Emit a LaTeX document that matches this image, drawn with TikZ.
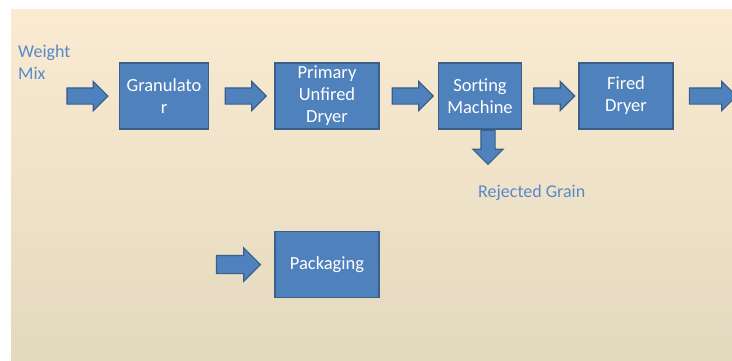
\documentclass[tikz,border=0pt]{standalone}
\usepackage{fontspec}
\setmainfont{Carlito}
\usetikzlibrary{shapes.arrows,positioning,calc}
\definecolor{boxfill}{HTML}{4F81BD}
\definecolor{boxline}{HTML}{3A5F8B}
\definecolor{lblblue}{HTML}{5889C8}
\definecolor{bgtop}{HTML}{FAEBD2}
\definecolor{bgbot}{HTML}{E3D9BF}

\begin{document}
\begin{tikzpicture}[x=1pt, y=-1pt,
  box/.style={rectangle, draw=boxline, fill=boxfill, line width=1.5pt, text=white,
    align=center, minimum height=66pt, inner xsep=2pt, inner ysep=0pt,
    font=\fontsize{18.5}{22}\selectfont},
  fat/.style={single arrow, draw=boxline, fill=boxfill, line width=1.2pt,
    inner xsep=0pt, inner ysep=7.5pt, single arrow head extend=6.5pt,
    minimum height=41pt},
  lbl/.style={text=lblblue, inner sep=0pt, font=\fontsize{18}{22}\selectfont}]

  \useasboundingbox (0,0) rectangle (732,360);
  \fill[white] (0,0) rectangle (732,360);
  \shade[top color=bgtop, bottom color=bgbot] (11,9) rectangle (732,360);

  \node[box, minimum width=89pt]  (gran)  at (164,96) {Granulato\\r};
  \node[box, minimum width=104pt] (unf)   [right=65pt of gran] {Primary\\Unfired\\Dryer};
  \node[box, minimum width=83pt]  (sort)  [right=58pt of unf] {Sorting\\Machine};
  \node[box, minimum width=94pt]  (fired) [right=56pt of sort] {Fired\\Dryer};
  \node[box, minimum width=104pt] (pack)  [below=101pt of unf] {Packaging};

  \node[lbl, align=left, anchor=north west] (mix) at (18,45) {Weight\\Mix};
  \node[lbl, anchor=base west] (rej) at (478,197) {Rejected Grain};

  % block arrows between the stages
  \node[fat, anchor=tip] (a1) at ([xshift=-10pt]gran.west) {};
  \node[fat] (a2) at ($(gran.east)!.5!(unf.west)$) {};
  \node[fat] (a3) at ($(unf.east)!.5!(sort.west)$) {};
  \node[fat] (a4) at ($(sort.east)!.5!(fired.west)$) {};
  \node[fat, anchor=tail, minimum height=47pt] (a5) at ([xshift=15pt]fired.east) {};
  \node[fat, shape border rotate=270, anchor=tail, inner xsep=6.5pt, inner ysep=0pt,
        single arrow head extend=8pt, minimum height=34pt] (drop) at ([xshift=8pt]sort.south) {};
  \node[fat, anchor=tip, minimum height=44pt, inner ysep=8.5pt,
        single arrow head extend=7.5pt] (feed) at ([xshift=-13pt]pack.west) {};
\end{tikzpicture}
\end{document}
